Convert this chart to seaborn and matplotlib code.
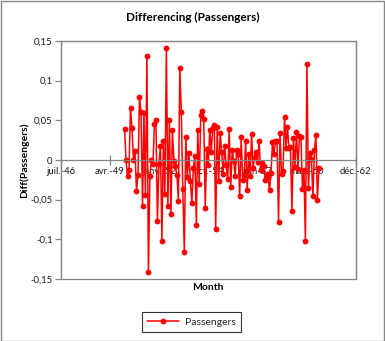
import numpy as np
import pandas as pd
import matplotlib
matplotlib.use("Agg")
import matplotlib.pyplot as plt
import matplotlib.dates as mdates
from matplotlib.patches import Rectangle
import seaborn as sns

# ---- data ----
first_month = "1950-02-01"
diff_1950 = [0.0392, 0.0004, -0.0205, -0.0130, 0.0661, 0.0400, 0.0000, 0.0113, -0.0386, -0.0195, 0.0792]
diff_1951 = [0.0609, -0.0576, 0.0587, -0.0445, 0.1307, -0.1413, -0.0204, 0.0000, -0.0051, 0.0448, 0.0502, -0.0771]
diff_1952 = [-0.0054, 0.0175, -0.1015, 0.0238, -0.0427, 0.1407, -0.0579, 0.0509, -0.0683, 0.0373, -0.0008, -0.0080]
diff_1953 = [-0.0195, -0.0513, 0.1161, 0.0599, -0.0369, -0.1156, 0.0293, -0.0211, 0.0089, -0.0261, -0.0541, -0.0101]
diff_1954 = [0.0046, -0.0817, 0.0374, -0.0303, 0.0562, 0.0613, 0.0515, -0.0600, 0.0143, -0.0069, 0.0384, 0.0102]
diff_1955 = [0.0404, 0.0438, -0.0870, 0.0421, -0.0266, 0.0335, 0.0102, -0.0177, 0.0171, -0.0068, -0.0245, 0.0390]
diff_1956 = [-0.0338, 0.0129, -0.0013, -0.0202, 0.0122, 0.0080, -0.0455, 0.0284, -0.0255, -0.0186, 0.0235, -0.0380]
diff_1957 = [0.0076, -0.0205, 0.0330, -0.0101, 0.0040, 0.0107, -0.0020, 0.0238, -0.0132, -0.0036, -0.0075, -0.0247]
diff_1958 = [-0.0171, -0.0214, -0.0383, -0.0167, 0.0223, 0.0081, 0.0240, 0.0238, -0.0782, 0.0341, -0.0178, -0.0133]
diff_1959 = [0.0541, 0.0156, 0.0420, 0.0145, 0.0167, -0.0643, 0.0282, -0.0082, 0.0348, -0.0110, 0.0297, 0.0287]
diff_1960 = [-0.0368, -0.0131, -0.1024, 0.1205, -0.0353, 0.0086, 0.0014, -0.0460, 0.0120, 0.0319, -0.0501, -0.0099]

x_tick_serials = [17000, 18000, 19000, 20000, 21000, 22000, 23000]  # Excel date serials
x_tick_labels = ["juil.-46", "avr.-49", "janv.-52", "oct.-54", "juin-57", "mars-60", "déc.-62"]
y_ticks = [-0.15, -0.1, -0.05, 0, 0.05, 0.1, 0.15]
y_tick_labels = ["-0,15", "-0,1", "-0,05", "0", "0,05", "0,1", "0,15"]
series_name = "Passengers"

values = (diff_1950 + diff_1951 + diff_1952 + diff_1953 + diff_1954 + diff_1955
          + diff_1956 + diff_1957 + diff_1958 + diff_1959 + diff_1960)
dates = pd.date_range(start=first_month, periods=len(values), freq="MS")
df = pd.DataFrame({"Month": dates, series_name: values})

excel_epoch = pd.Timestamp("1899-12-30")
tick_dates = [excel_epoch + pd.Timedelta(days=s) for s in x_tick_serials]

# ---- style ----
sns.set_style("white")
plt.rcParams["font.family"] = ["Lato", "DejaVu Sans"]

W, H = 385, 341
fig = plt.figure(figsize=(W / 100, H / 100), dpi=100)
fig.patch.set_facecolor("white")
L, R, T, B = 61, 355.7, 41, 279
ax = fig.add_axes([L / W, 1 - B / H, (R - L) / W, (B - T) / H])

sns.lineplot(data=df, x="Month", y=series_name, ax=ax, color="#FF0000",
             marker="o", markersize=4.2, markeredgewidth=0, linewidth=1.1,
             label=series_name, legend=False)

gray = "#868686"
ax.set_xlim(mdates.date2num(tick_dates[0]), mdates.date2num(tick_dates[-1]))
ax.set_ylim(-0.15, 0.15)
ax.set_xticks([mdates.date2num(d) for d in tick_dates])
ax.set_xticklabels(x_tick_labels)
ax.set_yticks(y_ticks)
ax.set_yticklabels(y_tick_labels)
ax.set_xlabel("")
ax.set_ylabel("")

for side in ["top", "right", "left"]:
    ax.spines[side].set_color(gray)
    ax.spines[side].set_linewidth(0.9)
ax.spines["bottom"].set_position(("data", 0))
ax.spines["bottom"].set_color(gray)
ax.spines["bottom"].set_linewidth(0.9)
ax.add_patch(Rectangle((0, 0), 1, 1, transform=ax.transAxes, fill=False,
                       edgecolor=gray, linewidth=0.9, clip_on=False, zorder=0))

ax.tick_params(axis="x", direction="inout", length=7, width=0.9, color=gray,
               labelsize=6.8, pad=1.5, labelcolor="#1a1a1a", bottom=True)
ax.tick_params(axis="y", direction="out", length=4, width=0.9, color=gray,
               labelsize=6.8, pad=2, labelcolor="#1a1a1a", left=True)

fig.text(0.5, 1 - 17 / H, "Differencing (Passengers)", ha="center", va="center",
         fontsize=8.5, fontweight="bold", color="black")
fig.text((L + R) / 2 / W, 1 - 287 / H, "Month", ha="center", va="center",
         fontsize=7.5, fontweight="bold", color="black")
fig.text(24 / W, 1 - 160 / H, "Diff(Passengers)", ha="center", va="center",
         rotation=90, fontsize=7.5, fontweight="bold", color="black")

handles, labels = ax.get_legend_handles_labels()
leg = fig.legend(handles, labels, loc="center", bbox_to_anchor=(191.5 / W, 1 - 322 / H),
                 frameon=True, fancybox=False, edgecolor="black", fontsize=7.5,
                 handlelength=3.0, borderpad=0.5, handletextpad=0.6)
leg.get_frame().set_linewidth(0.8)

fig.patches.append(Rectangle((0.5 / W, 0.5 / H), (W - 1.5) / W, (H - 1.5) / H,
                             transform=fig.transFigure, fill=False,
                             edgecolor=gray, linewidth=1.0))

fig.savefig("out.png", dpi=100)
